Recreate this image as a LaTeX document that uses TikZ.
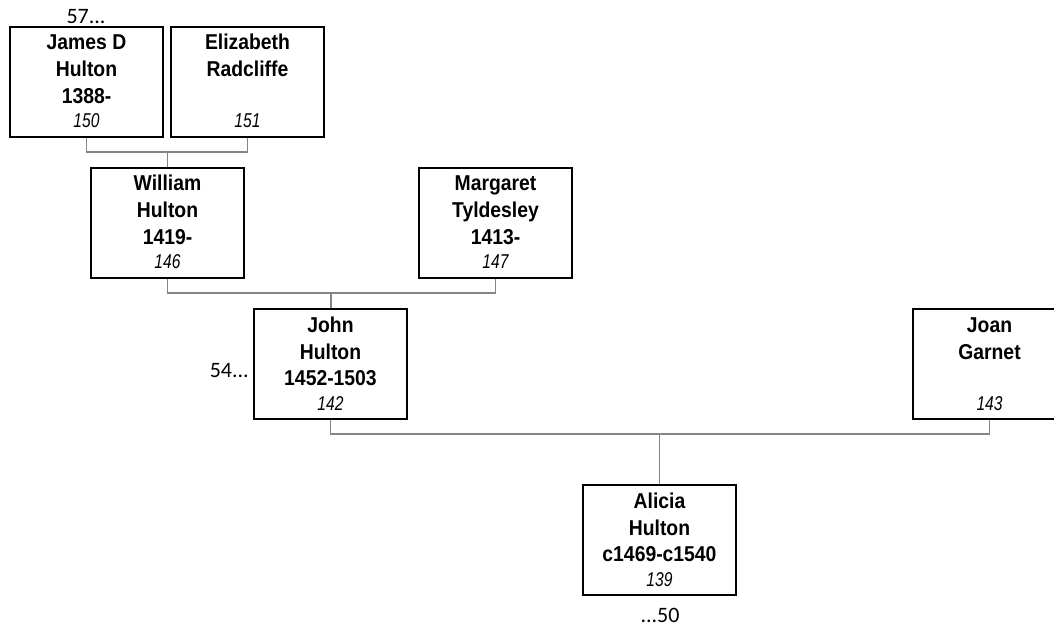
\documentclass[tikz,border=0pt]{standalone}
\usepackage{fontspec}
\setmainfont[FakeStretch=0.9]{Liberation Sans}
\newfontfamily\numfont[FakeStretch=0.78]{Liberation Sans}
\newfontfamily\labfont{Carlito}
\begin{document}
\begin{tikzpicture}[x=1pt,y=-1pt,
  pbox/.style={draw=black,line width=1.8pt,minimum width=153pt,minimum height=110pt,inner sep=0pt},
  bline/.style={anchor=base,inner sep=0pt,font=\fontsize{21.5}{24}\selectfont\bfseries},
  nline/.style={anchor=base,inner sep=0pt,font=\numfont\fontsize{20}{22}\selectfont\itshape},
  conn/.style={draw=black!48,line width=1.6pt},
  side/.style={inner sep=0pt,font=\fontsize{22}{24}\selectfont\labfont}]
\clip (0,0) rectangle (1054,628);
\newcommand\personbox[7]{%
  \node[pbox] (#1) at (#2,{#3+55}) {};
  \node[bline] (#1-a) at (#2,{#3+23}) {#4};
  \node[bline] (#1-b) at (#2,{#3+50}) {#5};
  \node[bline] (#1-c) at (#2,{#3+76.5}) {#6};
  \node[nline] (#1-n) at (#2,{#3+101}) {#7};}
\personbox{james}{86.5}{27}{James D}{Hulton}{1388-}{150}
\personbox{eliz}{247.5}{27}{Elizabeth}{Radcliffe}{}{151}
\personbox{william}{167.5}{168}{William}{Hulton}{1419-}{146}
\personbox{margaret}{495.5}{168}{Margaret}{Tyldesley}{1413-}{147}
\personbox{john}{330.5}{309}{John}{Hulton}{1452-1503}{142}
\personbox{joan}{989.5}{309}{Joan}{Garnet}{}{143}
\personbox{alicia}{659.5}{485}{Alicia}{Hulton}{c1469-c1540}{139}
% connectors
\coordinate (m1) at (167.5,152);
\coordinate (m2) at (331,293);
\coordinate (m3) at (659.5,434);
\draw[conn] (james.south) |- (m1) -| (eliz.south);
\draw[conn] (m1) -- (william.north);
\draw[conn] (william.south) |- (m2) -| (margaret.south);
\draw[conn] (m2) -- (m2 |- john.north);
\draw[conn] (john.south) |- (m3) -| (joan.south);
\draw[conn] (m3) -- (alicia.north);
% side labels
\node[side,anchor=base] (l57) at (86,24) {57...};
\node[side,anchor=base east] (l54) at (249,377) {54...};
\node[side,anchor=base] (l50) at (660,622) {...50};
\end{tikzpicture}
\end{document}
